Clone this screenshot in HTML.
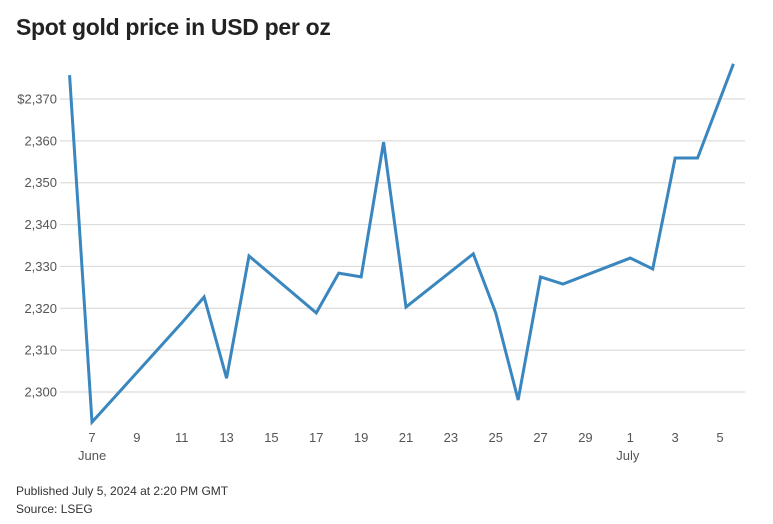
<!DOCTYPE html>
<html><head><meta charset="utf-8"><style>
body{margin:0;background:#fff;font-family:"Liberation Sans",sans-serif;}
#wrap{position:relative;width:773px;height:524px;}
h1{position:absolute;left:16px;top:14px;margin:0;font-size:23px;font-weight:bold;color:#222;letter-spacing:-0.3px}
.foot{position:absolute;left:16px;font-size:12px;color:#333}
</style></head><body>
<div id="wrap">
<h1>Spot gold price in USD per oz</h1>
<svg id="c" width="773" height="524" style="position:absolute;left:0;top:0"></svg>
<div class="foot" style="top:484px">Published July 5, 2024 at 2:20 PM GMT</div>
<div class="foot" style="top:502px">Source: LSEG</div>
</div>
<script>
const days=[-1,0,4,5,6,7,10,11,12,13,14,17,18,19,20,21,24,25,26,27,28.6];
const prices=[2375.7,2292.8,2316.5,2322.7,2303.3,2332.5,2318.9,2328.4,2327.5,2359.7,2320.3,2333,2318.9,2298.1,2327.5,2325.8,2332,2329.4,2355.9,2355.9,2378.4];
const yTicks=[2300,2310,2320,2330,2340,2350,2360,2370];
const xTickDays=[0,2,4,6,8,10,12,14,16,18,20,22,24,26,28];
const xTickLabels=["7","9","11","13","15","17","19","21","23","25","27","29","1","3","5"];
const monthLabels=[{d:0,t:"June"},{d:24,t:"July"}];
const ns="http://www.w3.org/2000/svg",svg=document.getElementById('c');
const X=d=>92+d*(628/28), Y=v=>392-(v-2300)*(293/70);
function mk(t,a){const e=document.createElementNS(ns,t);for(const k in a)e.setAttribute(k,a[k]);svg.appendChild(e);return e;}
yTicks.forEach(v=>{
 const l=mk('line',{x1:60,x2:745,y1:Y(v),y2:Y(v),stroke:'#dcdcdc','stroke-width':1.2});
 
 
 const t=mk('text',{x:57,y:Y(v)+4.5,'text-anchor':'end','font-size':13,fill:'#555'});
 t.textContent=(v===2370?'$':'')+v.toLocaleString('en-US');
 
 
});
xTickDays.forEach((d,i)=>{
 const t=mk('text',{x:X(d),y:442,'text-anchor':'middle','font-size':13,fill:'#555'});
 t.textContent=xTickLabels[i];
 
 
});
monthLabels.forEach(m=>{
 const t=mk('text',{x:X(m.d)-14,y:460,'font-size':13,fill:'#555'});
 t.textContent=m.t;
 
 
});
const p=mk('polyline',{points:days.map((d,i)=>X(d)+','+Y(prices[i])).join(' '),fill:'none',stroke:'#3a87c0','stroke-width':3,'stroke-linejoin':'miter'});


</script>
</body></html>
